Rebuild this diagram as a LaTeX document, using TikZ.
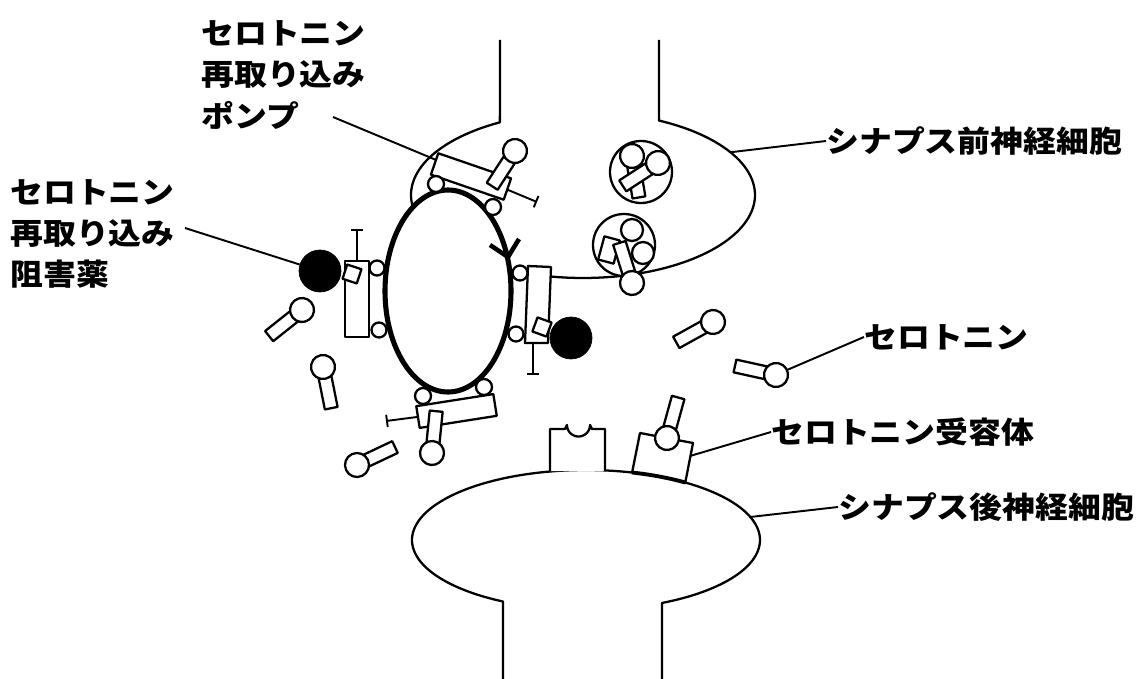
\documentclass[tikz,border=0pt]{standalone}
\usepackage{fontspec}
\newfontfamily\jpfont{Noto Sans CJK JP}[FakeStretch=1.1]
\usetikzlibrary{arrows.meta}
\begin{document}
\begin{tikzpicture}[x=0.02cm,y=-0.02cm,
  outline/.style={line width=1.3pt, line join=round},
  part/.style={outline, fill=white},
  membrane/.style={line width=2.9pt, fill=white},
  lead/.style={line width=1.1pt},
  tee/.style={lead, -{Bar[width=7pt]}},
  drug/.style={circle, fill=black, draw=black, inner sep=0pt, minimum size=0.84cm},
  lbl/.style={font=\jpfont\bfseries\fontsize{17}{23.5}\selectfont, align=left, inner sep=0pt, anchor=west},
  sero/.pic={\draw[part] (8,-6.5) rectangle (42,6.5); \draw[part] (0,0) circle (12);}
]
\fill[white] (0,0) rectangle (1147,679);
\useasboundingbox (0,0) rectangle (1147,679);

% presynaptic terminal (axon and bulb)
\draw[outline] (500,40) -- plot[domain=241.1:-63.8, samples=150] ({583+172*cos(\x)},{195+83*sin(\x)}) -- (659,40);
\coordinate (preEdge) at ({583+172*cos(-31)},{195+83*sin(-31)});

% postsynaptic cell (bulb and dendrite)
\draw[outline] (503,679) -- plot[domain=118.5:424.1, samples=150] ({586+174*cos(\x)},{540+70*sin(\x)}) -- (662,679);
\coordinate (postEdge) at ({586+174*cos(-19.2)},{540+70*sin(-19.2)});

% synaptic vesicles
\draw[part] (641,172) circle (31);
\pic[rotate=-80.5] at (632,156) {sero};
\pic[rotate=-147] at (658,163) {sero};
\draw[part] (624,245) circle (31);
\draw[part, shift={(609,250)}, rotate=-15] (-8,-12) rectangle (8,12);
\draw[part] (632,230) circle (11);
\draw[part] (643,253) circle (11);
\pic[rotate=107.5] at (632,283) {sero};

% leader of the pump label, ending in a bar
\coordinate (pumpLead) at (333,117);
\coordinate (pumpTee) at (537,202);
\draw[tee] (pumpLead) -- (pumpTee);

% reuptake transporter membrane with direction mark
\draw[membrane] (448,291) ellipse [x radius=63, y radius=101];
\draw[line width=2.6pt, line join=miter] (490,245) -- (508,257) -- (519,239);

% transporter unit on top
\draw[part, shift={(471,176.5)}, rotate=-19] (-38.5,-11.3) rectangle (38.5,11.3);
\draw[part] (436,184) circle (8);
\draw[part] (493,207) circle (8);
\pic[rotate=-122.9] at (515,151) {sero};

% transporter unit on the left, blocked by the inhibitor
\coordinate (teeL) at (357,229);
\draw[tee] (357,261) -- (teeL);
\draw[part] (345,261) rectangle (369,337);
\draw[part] (377,268) circle (7.5);
\draw[part] (379,330) circle (7.5);
\node[drug] (drugL) at (320,271) {};
\draw[part, shift={(352,274)}, rotate=-18] (-7.5,-7.5) rectangle (7.5,7.5);

% transporter unit on the right, blocked by the inhibitor
\coordinate (teeR) at (533,375);
\draw[tee] (533,343) -- (teeR);
\draw[part] (528,266) -- (551,267) -- (548,343) -- (525,343) -- cycle;
\draw[part] (520,273) circle (7.5);
\draw[part] (516,334) circle (7.5);
\node[drug] (drugR) at (571,338) {};
\draw[part, shift={(542,327)}, rotate=-20] (-7.5,-7.5) rectangle (7.5,7.5);

% transporter unit at the bottom
\coordinate (teeB) at (386,421);
\draw[tee] (417,417) -- (teeB);
\draw[part, shift={(456.5,411)}, rotate=8.9] (-39,-11) rectangle (39,11);
\draw[part] (423,396) circle (8);
\draw[part] (484,387) circle (8);
\pic[rotate=84.3] at (432,453) {sero};

% free serotonin in the cleft
\pic[rotate=-141.5] at (302,310) {sero};
\pic[rotate=-78.7] at (323,367) {sero};
\pic[rotate=25.3] at (357,465) {sero};
\pic[rotate=-151] at (713,322) {sero};
\pic[rotate=167.6] at (776,375) {sero};
\coordinate (seroEdge) at (787,370);

% receptors on the postsynaptic membrane
\draw[part] (550,471) -- (550,429) -- (565,429) -- (567,425)
  -- plot[domain=180:0, samples=30] ({578.5+11.5*cos(\x)},{425+11.5*sin(\x)})
  -- (592,429) -- (605,429) -- (605,471);
\draw[part] (632,473) -- (640,433) -- (693,443) -- (685,484);
\draw[line width=2.2pt] plot[domain=285.3:304.7, samples=20] ({586+174*cos(\x)},{540+70*sin(\x)});
\pic[rotate=74.6] at (667,438) {sero};
\coordinate (recEdge) at (690,456);

% labels
\node[lbl] (lblPump) at (201,75) {セロトニン\\再取り込み\\ポンプ};
\node[lbl] (lblDrug) at (10,234) {セロトニン\\再取り込み\\阻害薬};
\node[lbl] (lblPre) at (826,141) {シナプス前神経細胞};
\node[lbl] (lblSero) at (864,337) {セロトニン};
\node[lbl] (lblRec) at (771,432) {セロトニン受容体};
\node[lbl] (lblPost) at (838,507) {シナプス後神経細胞};

% leaders
\coordinate (drugLead) at (185,228);
\draw[lead] (drugLead) -- (drugL);
\draw[lead] (preEdge) -- (lblPre.west);
\draw[lead] (seroEdge) -- (lblSero.west);
\draw[lead] (recEdge) -- (lblRec.west);
\draw[lead] (postEdge) -- (lblPost.west);
\end{tikzpicture}
\end{document}
